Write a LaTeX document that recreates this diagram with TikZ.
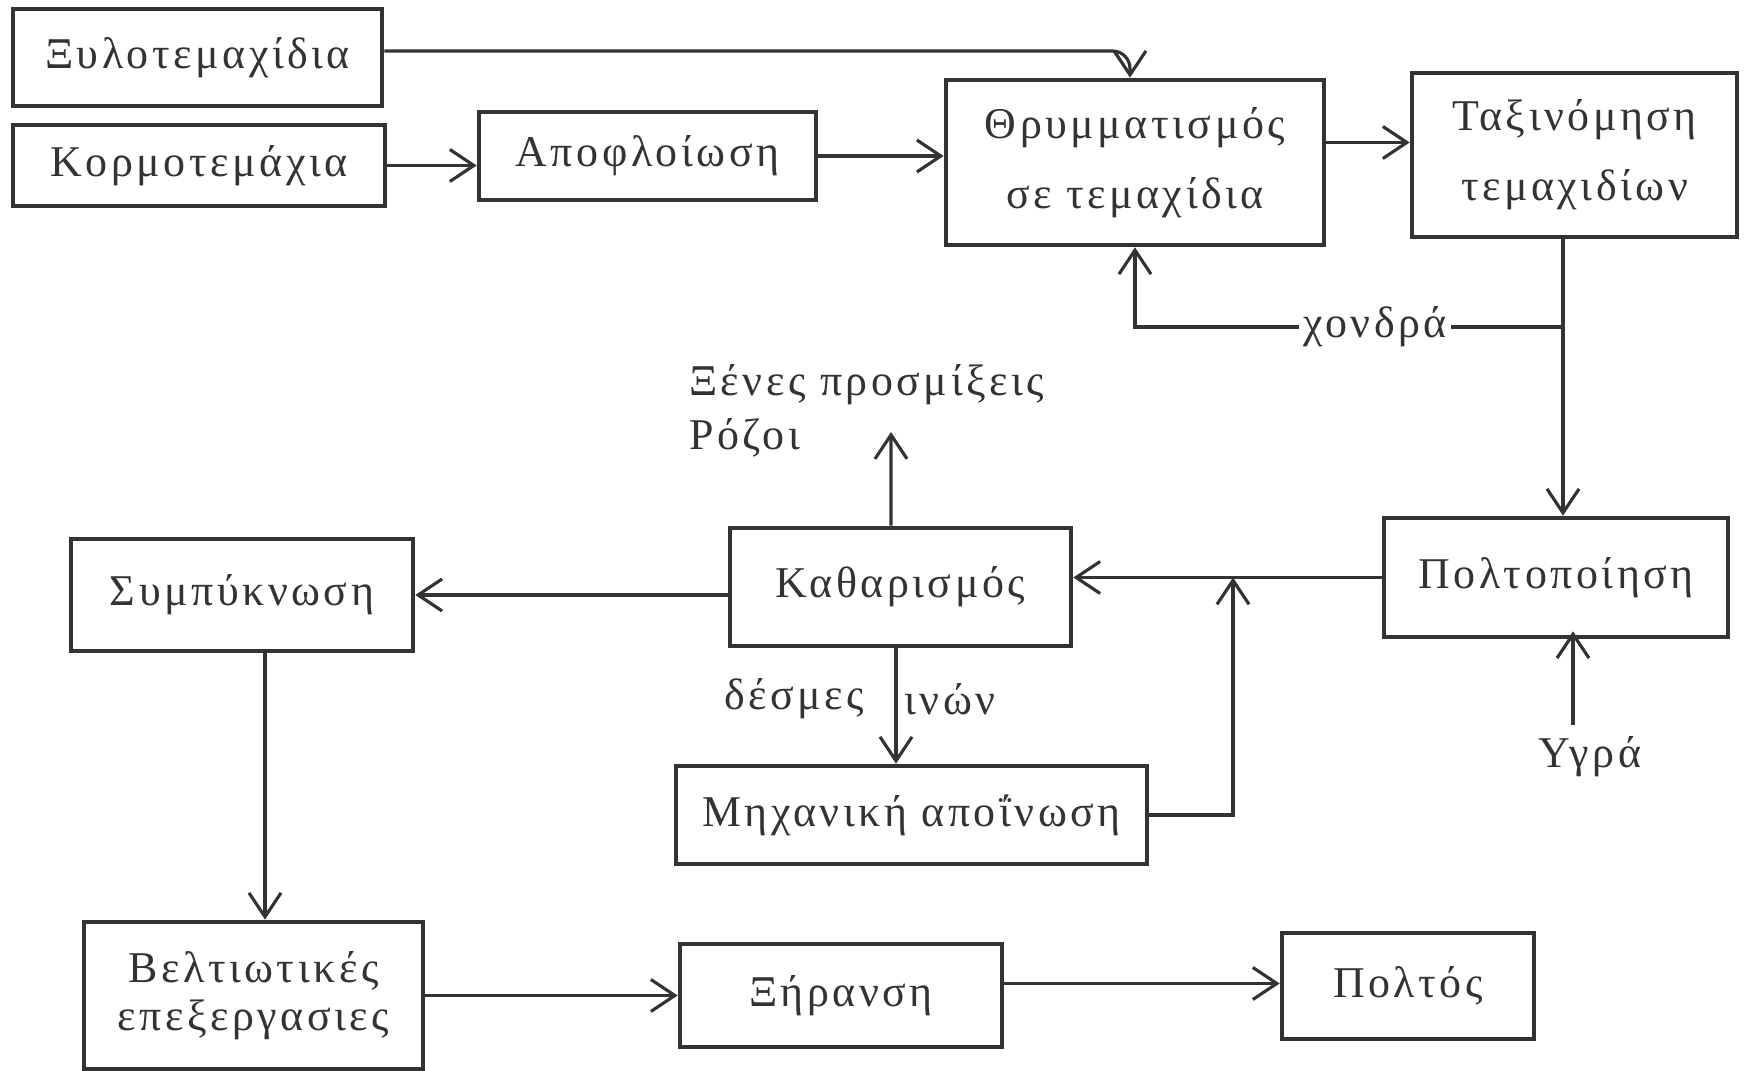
\documentclass[tikz,border=0pt]{standalone}
\usepackage{fontspec}
\setmainfont{Liberation Serif}[LetterSpace=8]
\usepackage{tikz}
\usetikzlibrary{arrows.meta}
\definecolor{ink}{HTML}{333333}

\begin{document}
\begin{tikzpicture}[>={Straight Barb[length=2.4mm,width=3.2mm]},
box/.style={draw=ink,line width=1.3pt,text=ink,inner sep=0pt,align=center,font=\fontsize{12.5}{20}\selectfont},
lbl/.style={text=ink,inner sep=1pt,font=\fontsize{12.5}{15.5}\selectfont},
flow/.style={draw=ink,line width=0.9pt,->},
tie/.style={draw=ink,line width=0.9pt}]
\useasboundingbox(0,0)rectangle(17.46,10.71);
\node[box,minimum width=3.69cm,minimum height=0.97cm](xylo)at(1.975,10.135){Ξυλοτεμαχίδια};
\node[box,minimum width=3.72cm,minimum height=0.81cm](korm)at(1.99,9.055){Κορμοτεμάχια};
\node[box,minimum width=3.37cm,minimum height=0.88cm](apof)at(6.475,9.15){Αποφλοίωση};
\node[box,minimum width=3.78cm,minimum height=1.65cm](thrym)at(11.35,9.085){Θρυμματισμός\\σε τεμαχίδια};
\node[box,minimum width=3.25cm,minimum height=1.64cm](taxin)at(15.745,9.16){Ταξινόμηση\\τεμαχιδίων};
\node[box,minimum width=3.44cm,minimum height=1.19cm](polt)at(15.56,4.935){Πολτοποίηση};
\node[box,minimum width=3.41cm,minimum height=1.18cm](kath)at(9.005,4.84){Καθαρισμός};
\node[box,minimum width=3.42cm,minimum height=1.12cm](symp)at(2.42,4.76){Συμπύκνωση};
\node[box,minimum width=4.71cm,minimum height=0.98cm](mixan)at(9.115,2.56){Μηχανική αποΐνωση};
\node[box,minimum width=3.39cm,minimum height=1.47cm,font=\fontsize{12.5}{13.5}\selectfont](velt)at(2.535,0.755){Βελτιωτικές\\επεξεργασιες};
\node[box,minimum width=3.22cm,minimum height=1.03cm](xiran)at(8.41,0.755){Ξήρανση};
\node[box,minimum width=2.52cm,minimum height=1.06cm](poltos)at(14.08,0.85){Πολτός};
\node[lbl](chondra)at(13.75,7.44){χονδρά};
\node[lbl,align=left,anchor=west](ksenes)at(6.85,6.60){Ξένες προσμίξεις\\Ρόζοι};
\node[lbl](desmes)at(7.94,3.72){δέσμες};
\node[lbl](inon)at(9.50,3.72){ινών};
\node[lbl](ygra)at(15.90,3.14){Υγρά};
\coordinate(split)at(15.63,7.44);
\coordinate(join)at(12.33,2.56);
\coordinate(waste)at(8.91,6.39);
\draw[flow,rounded corners=5pt]([yshift=0.065cm]xylo.east)-|([xshift=-0.05cm]thrym.north);
\draw[flow](korm.east)--(korm.east-|apof.west);
\draw[flow](apof.east)--(apof.east-|thrym.west);
\draw[flow]([yshift=0.2cm]thrym.east)--([yshift=0.2cm]thrym.east-|taxin.west);
\draw[flow](taxin.south-|split)--(split|-polt.north);
\draw[tie](split)--(chondra.east);
\draw[flow](chondra.west)-|(thrym.south);
\draw[flow](polt.west)--(polt.west-|kath.east);
\draw[flow](mixan.east)--(join)--(join|-polt.west);
\draw[flow]([xshift=-0.095cm]kath.north)--(waste);
\draw[flow]([xshift=-0.045cm]kath.south)--([xshift=-0.045cm]kath.south|-mixan.north);
\draw[flow](kath.west|-symp.east)--(symp.east);
\draw[flow]([xshift=0.23cm]symp.south)--([xshift=0.23cm]symp.south|-velt.north);
\draw[flow](velt.east)--(velt.east-|xiran.west);
\draw[flow]([yshift=0.12cm]xiran.east)--([yshift=0.12cm]xiran.east-|poltos.west);
\draw[flow]([shift={(-0.17,0.08)}]ygra.north)--([shift={(-0.17,0.08)}]ygra.north|-polt.south);
\end{tikzpicture}
\end{document}
